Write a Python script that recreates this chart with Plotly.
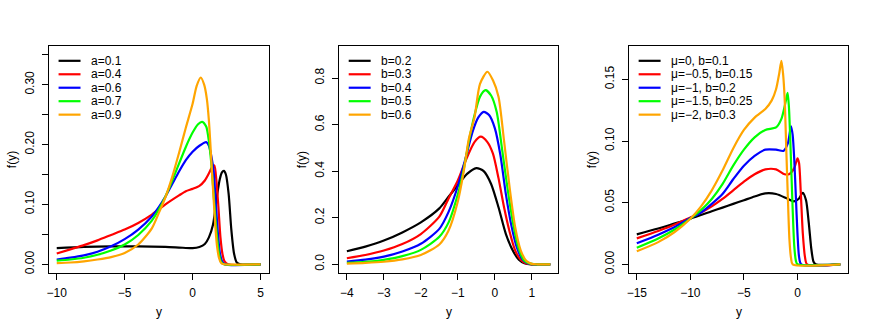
import plotly.graph_objects as go

W, H = 872, 332
FONT = 'Liberation Sans, Arial, Helvetica, sans-serif'
colors = ['#000000', '#FF0000', '#0000FF', '#00FF00', '#FFA500']

# ---- panel 1 : parameter a ----
a_labels = ['a=0.1', 'a=0.4', 'a=0.6', 'a=0.7', 'a=0.9']
a01_x = [-10, -8, -6, -4, -2, -1, 0, 0.5, 0.9, 1.2, 1.5, 1.8, 2.0, 2.15, 2.3, 2.45, 2.65, 2.85, 3.05, 3.25, 3.5, 5]
a01_y = [0.027, 0.029, 0.030, 0.030, 0.029, 0.028, 0.027, 0.029, 0.034, 0.045, 0.066, 0.115, 0.142, 0.153, 0.156, 0.150, 0.118, 0.058, 0.018, 0.003, 0, 0]
a04_x = [-10, -9, -8, -7, -6, -5, -4, -3, -2, -1, -0.5, 0, 0.5, 0.9, 1.2, 1.45, 1.6, 1.75, 1.9, 2.05, 2.2, 2.35, 2.6, 5]
a04_y = [0.018, 0.025, 0.032, 0.040, 0.049, 0.058, 0.069, 0.083, 0.100, 0.115, 0.122, 0.126, 0.131, 0.140, 0.152, 0.163, 0.165, 0.140, 0.095, 0.045, 0.017, 0.005, 0, 0]
a06_x = [-10, -9, -8, -7, -6, -5, -4, -3, -2.5, -2, -1.5, -1, -0.5, 0, 0.5, 1.0, 1.2, 1.4, 1.55, 1.7, 1.85, 2.0, 2.15, 2.35, 5]
a06_y = [0.008, 0.011, 0.015, 0.021, 0.030, 0.042, 0.058, 0.080, 0.095, 0.113, 0.134, 0.155, 0.174, 0.188, 0.198, 0.204, 0.198, 0.178, 0.155, 0.105, 0.055, 0.020, 0.006, 0, 0]
a07_x = [-10, -9, -8, -7, -6, -5, -4, -3, -2.5, -2, -1.5, -1, -0.5, 0, 0.4, 0.7, 1.0, 1.2, 1.35, 1.5, 1.65, 1.8, 1.95, 2.1, 2.3, 5]
a07_y = [0.006, 0.008, 0.011, 0.016, 0.023, 0.033, 0.049, 0.073, 0.091, 0.113, 0.140, 0.168, 0.196, 0.220, 0.234, 0.238, 0.230, 0.205, 0.175, 0.132, 0.085, 0.045, 0.017, 0.004, 0, 0]
a09_x = [-10, -9, -8, -7, -6, -5, -4, -3, -2.5, -2, -1.5, -1, -0.5, 0, 0.3, 0.6, 0.85, 1.05, 1.2, 1.3, 1.45, 1.55, 1.7, 1.8, 1.95, 2.1, 2.3, 5]
a09_y = [0.002, 0.003, 0.005, 0.008, 0.012, 0.019, 0.033, 0.060, 0.085, 0.112, 0.146, 0.186, 0.228, 0.268, 0.298, 0.312, 0.300, 0.276, 0.240, 0.204, 0.145, 0.108, 0.055, 0.030, 0.010, 0.002, 0, 0]

# ---- panel 2 : parameter b ----
b_labels = ['b=0.2', 'b=0.3', 'b=0.4', 'b=0.5', 'b=0.6']
b02_x = [-4, -3.5, -3, -2.5, -2, -1.5, -1.25, -1, -0.75, -0.5, -0.3, -0.1, 0.1, 0.3, 0.5, 0.65, 0.8, 1.0, 1.5]
b02_y = [0.056, 0.076, 0.102, 0.137, 0.180, 0.240, 0.290, 0.340, 0.388, 0.413, 0.400, 0.345, 0.245, 0.130, 0.055, 0.020, 0.005, 0, 0]
b03_x = [-4, -3.5, -3, -2.5, -2, -1.5, -1.25, -1, -0.75, -0.55, -0.38, -0.2, -0.05, 0.1, 0.25, 0.4, 0.55, 0.7, 0.85, 1.0, 1.5]
b03_y = [0.026, 0.040, 0.059, 0.087, 0.130, 0.205, 0.283, 0.360, 0.460, 0.525, 0.548, 0.525, 0.475, 0.370, 0.245, 0.140, 0.060, 0.020, 0.004, 0, 0]
b04_x = [-4, -3.5, -3, -2.5, -2, -1.5, -1.25, -1, -0.8, -0.6, -0.45, -0.3, -0.15, 0, 0.15, 0.3, 0.45, 0.6, 0.75, 0.9, 1.05, 1.5]
b04_y = [0.012, 0.020, 0.033, 0.055, 0.088, 0.152, 0.225, 0.335, 0.450, 0.570, 0.630, 0.655, 0.640, 0.585, 0.470, 0.300, 0.165, 0.070, 0.020, 0.004, 0, 0]
b05_x = [-4, -3.5, -3, -2.5, -2, -1.5, -1.25, -1, -0.85, -0.7, -0.55, -0.4, -0.25, -0.1, 0.05, 0.2, 0.35, 0.5, 0.65, 0.8, 0.95, 1.1, 1.5]
b05_y = [0.006, 0.010, 0.019, 0.035, 0.062, 0.118, 0.180, 0.300, 0.400, 0.530, 0.640, 0.720, 0.748, 0.725, 0.655, 0.490, 0.320, 0.170, 0.065, 0.015, 0.003, 0, 0]
b06_x = [-4, -3.5, -3, -2.5, -2, -1.5, -1.25, -1, -0.85, -0.7, -0.55, -0.4, -0.2, -0.05, 0.1, 0.25, 0.4, 0.55, 0.7, 0.85, 1.0, 1.15, 1.5]
b06_y = [0.003, 0.006, 0.011, 0.021, 0.040, 0.085, 0.145, 0.270, 0.390, 0.540, 0.630, 0.775, 0.827, 0.790, 0.720, 0.530, 0.330, 0.160, 0.060, 0.015, 0.002, 0, 0]

# ---- panel 3 : parameters mu, b ----
m_labels = ['\u03bc=0, b=0.1', '\u03bc=\u22120.5, b=0.15', '\u03bc=\u22121, b=0.2',
            '\u03bc=\u22121.5, b=0.25', '\u03bc=\u22122, b=0.3']
m0_x = [-15, -13, -11.5, -10, -8, -7, -6, -5, -4, -3, -2, -1, -0.35, 0.1, 0.5, 0.8, 1.05, 1.3, 1.5, 1.7, 4]
m0_y = [0.0243, 0.029, 0.033, 0.037, 0.043, 0.046, 0.049, 0.052, 0.055, 0.0575, 0.057, 0.0535, 0.051, 0.053, 0.058, 0.052, 0.034, 0.012, 0.002, 0, 0]
m05_x = [-15, -13, -11.5, -10, -9, -8, -7, -6, -5, -4, -3, -2, -1.2, -0.8, -0.3, 0, 0.15, 0.3, 0.5, 0.7, 0.9, 4]
m05_y = [0.021, 0.027, 0.032, 0.038, 0.042, 0.047, 0.053, 0.060, 0.067, 0.073, 0.077, 0.077, 0.073, 0.073, 0.078, 0.086, 0.082, 0.060, 0.025, 0.006, 0, 0]
m1_x = [-15, -13, -11.5, -10, -9, -8, -7, -6, -5, -4, -3, -2, -1.3, -0.9, -0.6, -0.45, -0.3, -0.15, 0, 0.15, 0.35, 4]
m1_y = [0.017, 0.024, 0.030, 0.0375, 0.042, 0.049, 0.057, 0.069, 0.080, 0.088, 0.093, 0.093, 0.092, 0.098, 0.112, 0.105, 0.085, 0.055, 0.025, 0.006, 0, 0]
m15_x = [-15, -13, -11.5, -10, -9, -8, -7, -6, -5, -4, -3, -2, -1.5, -1.1, -0.92, -0.8, -0.68, -0.55, -0.45, -0.3, -0.15, 0, 4]
m15_y = [0.0135, 0.021, 0.028, 0.037, 0.044, 0.053, 0.065, 0.080, 0.093, 0.103, 0.109, 0.111, 0.118, 0.132, 0.139, 0.128, 0.103, 0.070, 0.045, 0.015, 0.003, 0, 0]
m2_x = [-15, -13, -11.5, -10, -9, -8, -7, -6, -5, -4, -3, -2.4, -2, -1.7, -1.5, -1.35, -1.2, -1.05, -0.9, -0.75, -0.6, -0.45, 4]
m2_y = [0.0105, 0.018, 0.026, 0.037, 0.047, 0.060, 0.076, 0.094, 0.109, 0.119, 0.126, 0.133, 0.142, 0.155, 0.165, 0.155, 0.135, 0.095, 0.055, 0.020, 0.005, 0, 0]

# ticks
p1_xticks = [-10, -5, 0, 5]
p1_yticks = [0, 0.05, 0.10, 0.15, 0.20, 0.25, 0.30, 0.35]
p1_ytext = ['0.00', '', '0.10', '', '0.20', '', '0.30', '']
p2_xticks = [-4, -3, -2, -1, 0, 1]
p2_yticks = [0, 0.2, 0.4, 0.6, 0.8]
p2_ytext = ['0.0', '0.2', '0.4', '0.6', '0.8']
p3_xticks = [-15, -10, -5, 0]
p3_yticks = [0, 0.05, 0.10, 0.15]
p3_ytext = ['0.00', '0.05', '0.10', '0.15']

panels = [
    dict(curves=[(a01_x, a01_y), (a04_x, a04_y), (a06_x, a06_y), (a07_x, a07_y), (a09_x, a09_y)],
         labels=a_labels, xr=[-10.6, 5.6], yr=[-0.014, 0.364], box=(46.7, 267.3),
         xt=p1_xticks, yt=p1_yticks, ytt=p1_ytext),
    dict(curves=[(b02_x, b02_y), (b03_x, b03_y), (b04_x, b04_y), (b05_x, b05_y), (b06_x, b06_y)],
         labels=b_labels, xr=[-4.22, 1.72], yr=[-0.036, 0.936], box=(337.5, 557.7),
         xt=p2_xticks, yt=p2_yticks, ytt=p2_ytext),
    dict(curves=[(m0_x, m0_y), (m05_x, m05_y), (m1_x, m1_y), (m15_x, m15_y), (m2_x, m2_y)],
         labels=m_labels, xr=[-15.76, 4.76], yr=[-0.0068, 0.1768], box=(628.1, 848.4),
         xt=p3_xticks, yt=p3_yticks, ytt=p3_ytext),
]

BOX_TOP, BOX_BOT = 46.5, 273.5


def fx(px):
    return px / W


def fy(py):
    return 1 - py / H


fig = go.Figure()
annotations = []
shapes = []
layout = {}

for i, p in enumerate(panels):
    n = '' if i == 0 else str(i + 1)
    for (xs, ys), c in zip(p['curves'], colors):
        fig.add_trace(go.Scatter(x=xs, y=ys, mode='lines', xaxis='x' + n, yaxis='y' + n,
                                 line=dict(color=c, width=2.2, shape='spline', smoothing=0.7),
                                 showlegend=False, hoverinfo='skip'))
    common = dict(showline=True, mirror=True, linecolor='black', linewidth=1,
                  ticks='outside', ticklen=6, tickwidth=1, tickcolor='black',
                  showgrid=False, zeroline=False, fixedrange=True,
                  tickfont=dict(family=FONT, size=12, color='black'))
    layout['xaxis' + n] = dict(common, domain=[fx(p['box'][0]), fx(p['box'][1])], range=p['xr'],
                               anchor='y' + n, tickvals=p['xt'], ticklabelstandoff=3)
    layout['yaxis' + n] = dict(common, domain=[fy(BOX_BOT), fy(BOX_TOP)], range=p['yr'],
                               anchor='x' + n, tickvals=p['yt'], ticktext=p['ytt'],
                               tickangle=-90, ticklabelstandoff=3)
    left, right = p['box']
    # axis titles
    annotations.append(dict(text='y', x=fx((left + right) / 2), y=fy(313), xref='paper', yref='paper',
                            showarrow=False, font=dict(family=FONT, size=12, color='black'),
                            xanchor='center', yanchor='middle'))
    annotations.append(dict(text='f(y)', x=fx(left - 37), y=fy((BOX_TOP + BOX_BOT) / 2),
                            xref='paper', yref='paper', textangle=-90, showarrow=False,
                            font=dict(family=FONT, size=12, color='black'),
                            xanchor='center', yanchor='middle'))
    # legend (top left, no frame)
    for k, (lab, c) in enumerate(zip(p['labels'], colors)):
        ly = 61 + k * 13.5
        shapes.append(dict(type='line', xref='paper', yref='paper',
                           x0=fx(left + 10), x1=fx(left + 32), y0=fy(ly), y1=fy(ly),
                           line=dict(color=c, width=2.2)))
        annotations.append(dict(text=lab, x=fx(left + 40.5), y=fy(ly), xref='paper', yref='paper',
                                showarrow=False, xanchor='left', yanchor='middle',
                                font=dict(family=FONT, size=12, color='black')))

fig.update_layout(width=W, height=H, margin=dict(l=0, r=0, t=0, b=0),
                  paper_bgcolor='white', plot_bgcolor='white', showlegend=False,
                  annotations=annotations, shapes=shapes, **layout)

# drop the default page margin so the figure fills the window exactly
fig.write_html('out.html', config={'displayModeBar': False},
               post_script="document.body.style.margin='0';")
